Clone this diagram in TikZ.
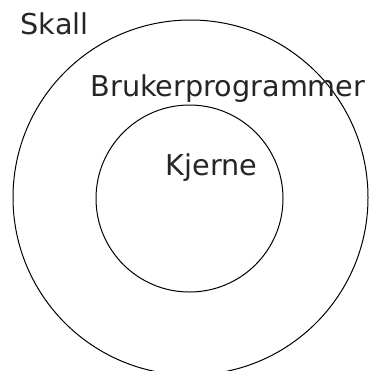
\documentclass[tikz,border=0pt]{standalone}
\usepackage{fontspec}
\setmainfont{DejaVu Sans}

\tikzset{
    ring/.style={circle, draw=black, line width=1pt, inner sep=0pt},
    lagnavn/.style={anchor=base west, inner sep=0pt, text=black!85,
        font=\fontsize{28.7}{34}\selectfont}
}

\begin{document}
\begin{tikzpicture}[x=1pt, y=-1pt]
    \useasboundingbox (0,0) rectangle (371,370);
    % skallet og kjernen
    \node[ring, minimum size=355pt] (skall) at (190.5,197.5) {};
    \node[ring, minimum size=187pt] (kjerne) at (189.5,198.5) {};
    % lagene
    \node[lagnavn] (skalltekst) at (20.5,34.5) {Skall};
    \node[lagnavn] (brukertekst) at (90.5,96) {Brukerprogrammer};
    \node[lagnavn] (kjernetekst) at (165.5,175) {Kjerne};
\end{tikzpicture}
\end{document}
